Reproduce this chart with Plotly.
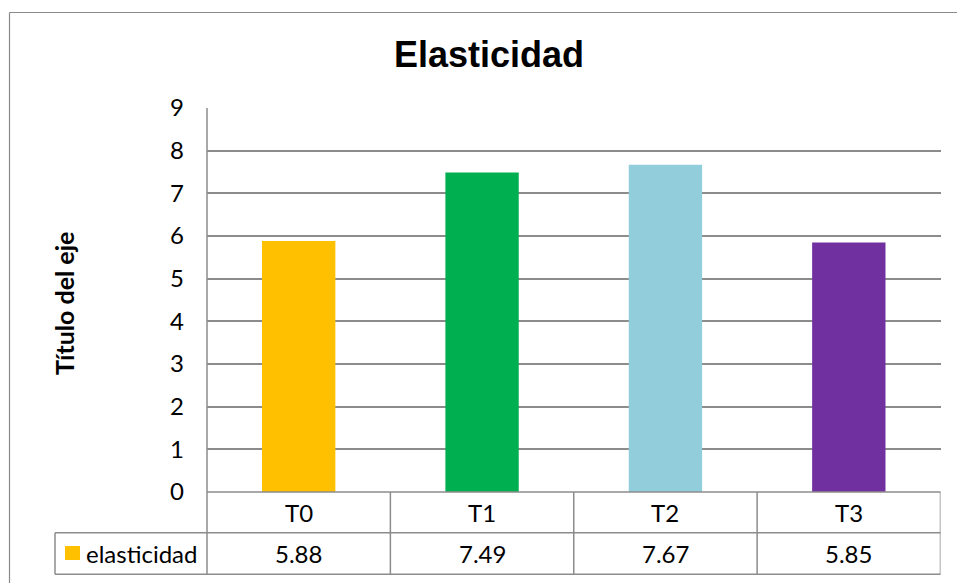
import plotly.graph_objects as go

# Chart data
categories = ["T0", "T1", "T2", "T3"]
values = [5.88, 7.49, 7.67, 5.85]
bar_colors = ["#FFC000", "#00B050", "#92CDDC", "#7030A0"]
series_name = "elasticidad"
y_ticks = [0, 1, 2, 3, 4, 5, 6, 7, 8, 9]

W, H = 957, 583
GRID = "#8c8c8c"
BODY_FONT = "Lato"
BODY_SIZE = 24


def py(px):
    """Convert a pixel row (from top) to paper y."""
    return 1 - px / H


def px_x(px):
    return px / W


plot_left, plot_right = 207, 940.5
plot_top, plot_bottom = 108, 492
row_mid, table_bottom = 532.7, 574.3
legend_left = 55

fig = go.Figure(
    go.Bar(
        x=categories,
        y=values,
        marker=dict(color=bar_colors, line=dict(width=0)),
        width=0.4,
        name=series_name,
        showlegend=False,
        hoverinfo="x+y",
    )
)

shapes = []
line = dict(color=GRID, width=1.5)

# outer chart frame (left and top edges visible)
shapes.append(dict(type="line", xref="paper", yref="paper",
                   x0=px_x(9.5), x1=px_x(9.5), y0=py(12.5), y1=0,
                   line=dict(color="#8a8a8a", width=1.2)))
shapes.append(dict(type="line", xref="paper", yref="paper",
                   x0=px_x(9.5), x1=1, y0=py(12.5), y1=py(12.5),
                   line=dict(color="#8a8a8a", width=1.2)))

# data table: horizontal rules
shapes.append(dict(type="line", xref="paper", yref="paper",
                   x0=px_x(plot_left), x1=px_x(plot_right), y0=py(plot_bottom), y1=py(plot_bottom), line=line))
for yy in (row_mid, table_bottom):
    shapes.append(dict(type="line", xref="paper", yref="paper",
                       x0=px_x(legend_left), x1=px_x(plot_right), y0=py(yy), y1=py(yy), line=line))
# data table: vertical rules
shapes.append(dict(type="line", xref="paper", yref="paper",
                   x0=px_x(plot_left), x1=px_x(plot_left), y0=py(plot_top), y1=py(table_bottom), line=line))
shapes.append(dict(type="line", xref="paper", yref="paper",
                   x0=px_x(legend_left), x1=px_x(legend_left), y0=py(row_mid), y1=py(table_bottom), line=line))
for i in range(1, len(categories) + 1):
    shapes.append(dict(type="line", xref="x", yref="paper",
                       x0=i - 0.5, x1=i - 0.5, y0=py(plot_bottom), y1=py(table_bottom), line=line))
# legend swatch
shapes.append(dict(type="rect", xref="paper", yref="paper",
                   x0=px_x(65), x1=px_x(80), y0=py(560), y1=py(546),
                   fillcolor=bar_colors[0], line=dict(width=0)))

body_font = dict(family=BODY_FONT, size=BODY_SIZE, color="#000")
annotations = []
for cat, val in zip(categories, values):
    annotations.append(dict(x=cat, y=py((plot_bottom + row_mid) / 2), xref="x", yref="paper",
                            text=cat, showarrow=False, font=body_font,
                            xanchor="center", yanchor="middle"))
    annotations.append(dict(x=cat, y=py((row_mid + table_bottom) / 2), xref="x", yref="paper",
                            text=f"{val:.2f}", showarrow=False, font=body_font,
                            xanchor="center", yanchor="middle"))
annotations.append(dict(x=px_x(84), y=py((row_mid + table_bottom) / 2), xref="paper", yref="paper",
                        text=series_name, showarrow=False, font=body_font,
                        xanchor="left", yanchor="middle"))
# title and axis title
annotations.append(dict(x=px_x(489), y=py(54), xref="paper", yref="paper",
                        text="<b>Elasticidad</b>", showarrow=False,
                        font=dict(family="Liberation Sans", size=36, color="#000"),
                        xanchor="center", yanchor="middle"))
annotations.append(dict(x=px_x(64), y=py(304), xref="paper", yref="paper",
                        text="<b>Título del eje</b>", showarrow=False, textangle=-90,
                        font=dict(family=BODY_FONT, size=25, color="#000"),
                        xanchor="center", yanchor="middle"))

fig.update_layout(
    width=W, height=H, autosize=False,
    margin=dict(l=0, r=0, t=0, b=0, pad=0, autoexpand=False),
    paper_bgcolor="white", plot_bgcolor="white",
    shapes=shapes, annotations=annotations,
    xaxis=dict(domain=[px_x(plot_left), px_x(plot_right)], range=[-0.5, len(categories) - 0.5],
               showticklabels=False, showgrid=False, zeroline=False, showline=False, ticks="",
               automargin=False),
    yaxis=dict(domain=[py(plot_bottom), py(plot_top)], range=[0, 9], tickvals=y_ticks,
               showgrid=True, gridcolor=GRID, gridwidth=1.5, zeroline=False, showline=False,
               ticks="", ticklabelstandoff=22, automargin=False,
               tickfont=body_font),
    bargap=0.6,
)

fig.write_html("out.html")
